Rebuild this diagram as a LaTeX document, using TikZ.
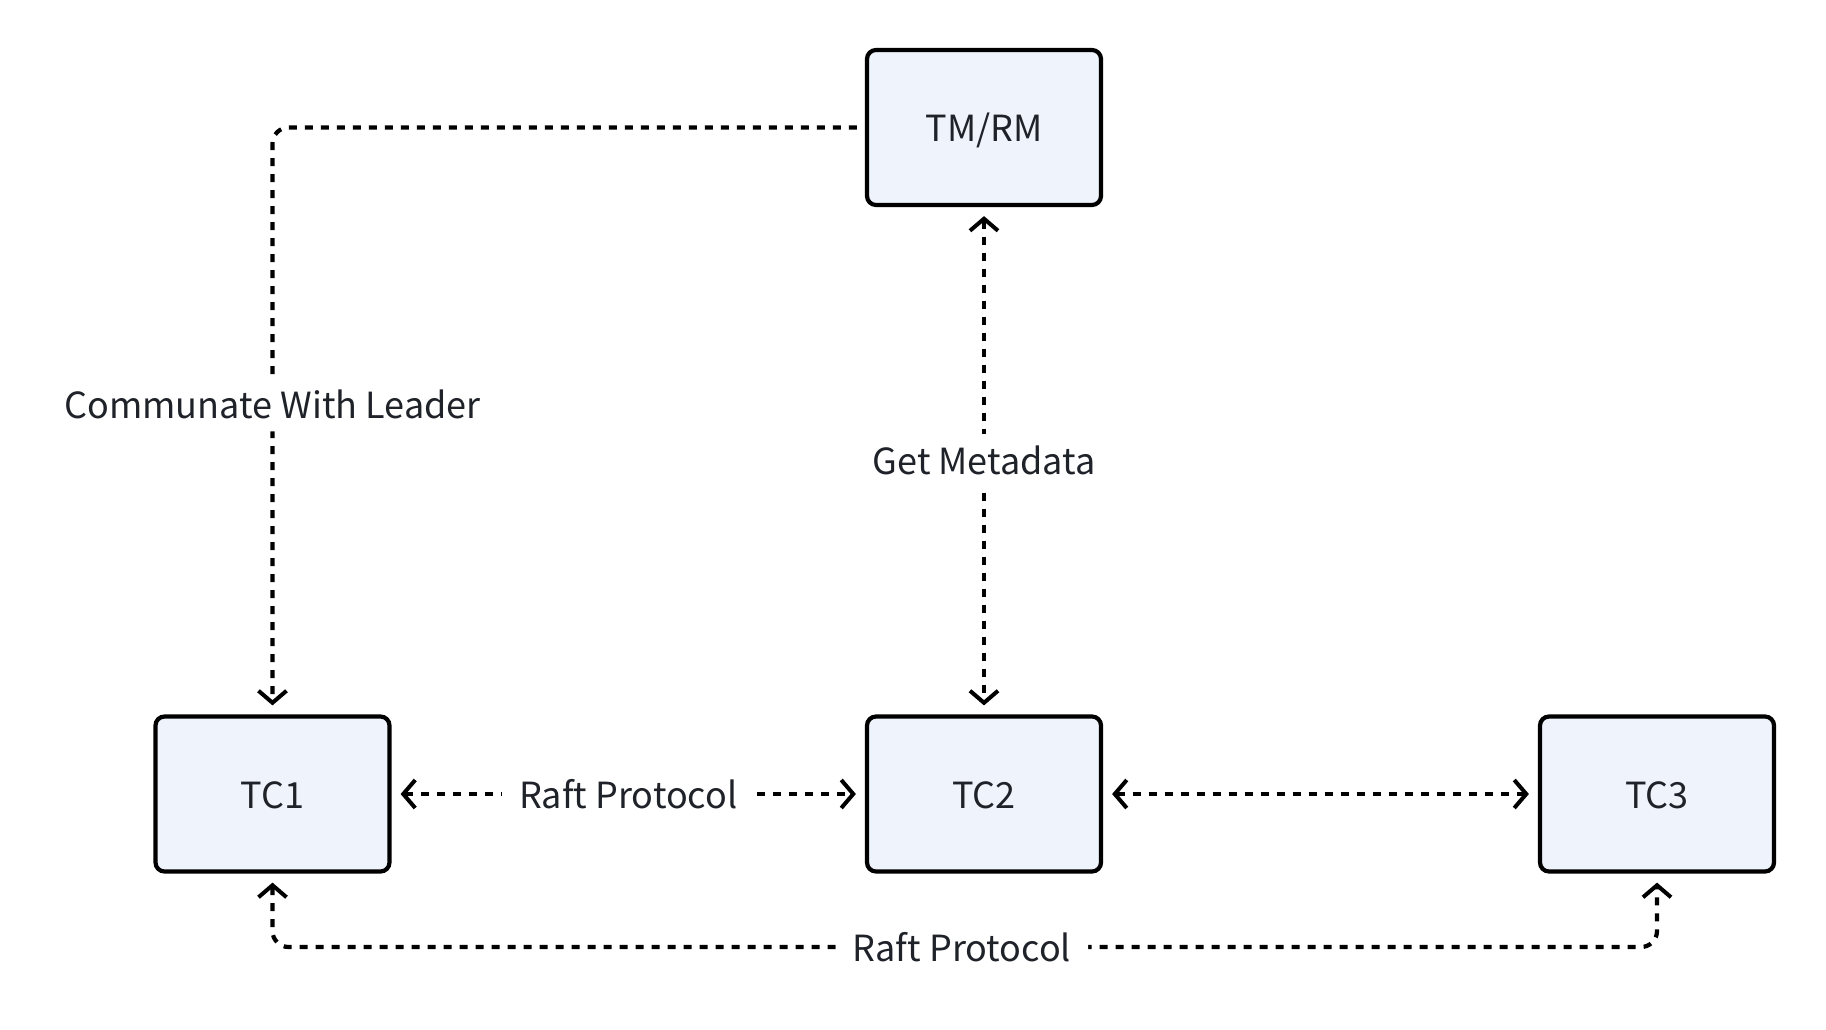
\documentclass[tikz,border=0pt]{standalone}
\usepackage{fontspec}
\setmainfont{Noto Sans CJK SC}
\usetikzlibrary{arrows.meta}
\definecolor{boxfill}{HTML}{EFF3FC}
\definecolor{txt}{HTML}{1F2329}
\begin{document}
\begin{tikzpicture}[x=1pt,y=-1pt,
  box/.style={draw=black, line width=4.2pt, fill=boxfill, rounded corners=9pt,
    minimum width=234pt, minimum height=155pt, text=txt,
    text height=29pt, text depth=0pt,
    font=\fontsize{36}{42}\selectfont},
  conn/.style={draw=black, line width=4.2pt, dash pattern=on 8pt off 8pt,
    rounded corners=16pt},
  tip/.style={-{Straight Barb[length=12pt,width=28pt,line width=4pt]}},
  tips/.style={{Straight Barb[length=12pt,width=28pt,line width=4pt]}-{Straight Barb[length=12pt,width=28pt,line width=4pt]}},
  lbl/.style={fill=white, text=txt, inner xsep=17pt, inner ysep=12pt,
    font=\fontsize{36}{42}\selectfont}]
\useasboundingbox (0,0) rectangle (1826,1030);
\node[box] (tm) at (984,127.5) {TM/RM};
\node[box] (tc1) at (272.5,794) {TC1};
\node[box] (tc2) at (984,794) {TC2};
\node[box] (tc3) at (1657,794) {TC3};
% TM/RM -> TC1
\draw[conn,tip] ([xshift=-8pt]tm.west) -| node[lbl,pos=0.74] {Communate With Leader} ([yshift=9pt]tc1.north);
% TM/RM <-> TC2
\draw[conn,tips] ([yshift=-9pt]tm.south) -- node[lbl,pos=0.5] {Get Metadata} ([yshift=9pt]tc2.north);
% TC1 <-> TC2
\draw[conn,tips] ([xshift=9pt]tc1.east) -- node[lbl] {Raft Protocol} ([xshift=-9pt]tc2.west);
% TC2 <-> TC3
\draw[conn,tips] ([xshift=9pt]tc2.east) -- ([xshift=-9pt]tc3.west);
% TC1 <-> TC3 bottom
\coordinate (bm) at (962,947);
\draw[conn,tips] ([yshift=-9pt]tc1.south) |- (bm) node[lbl] {Raft Protocol} -| ([yshift=-9pt]tc3.south);
\end{tikzpicture}
\end{document}
